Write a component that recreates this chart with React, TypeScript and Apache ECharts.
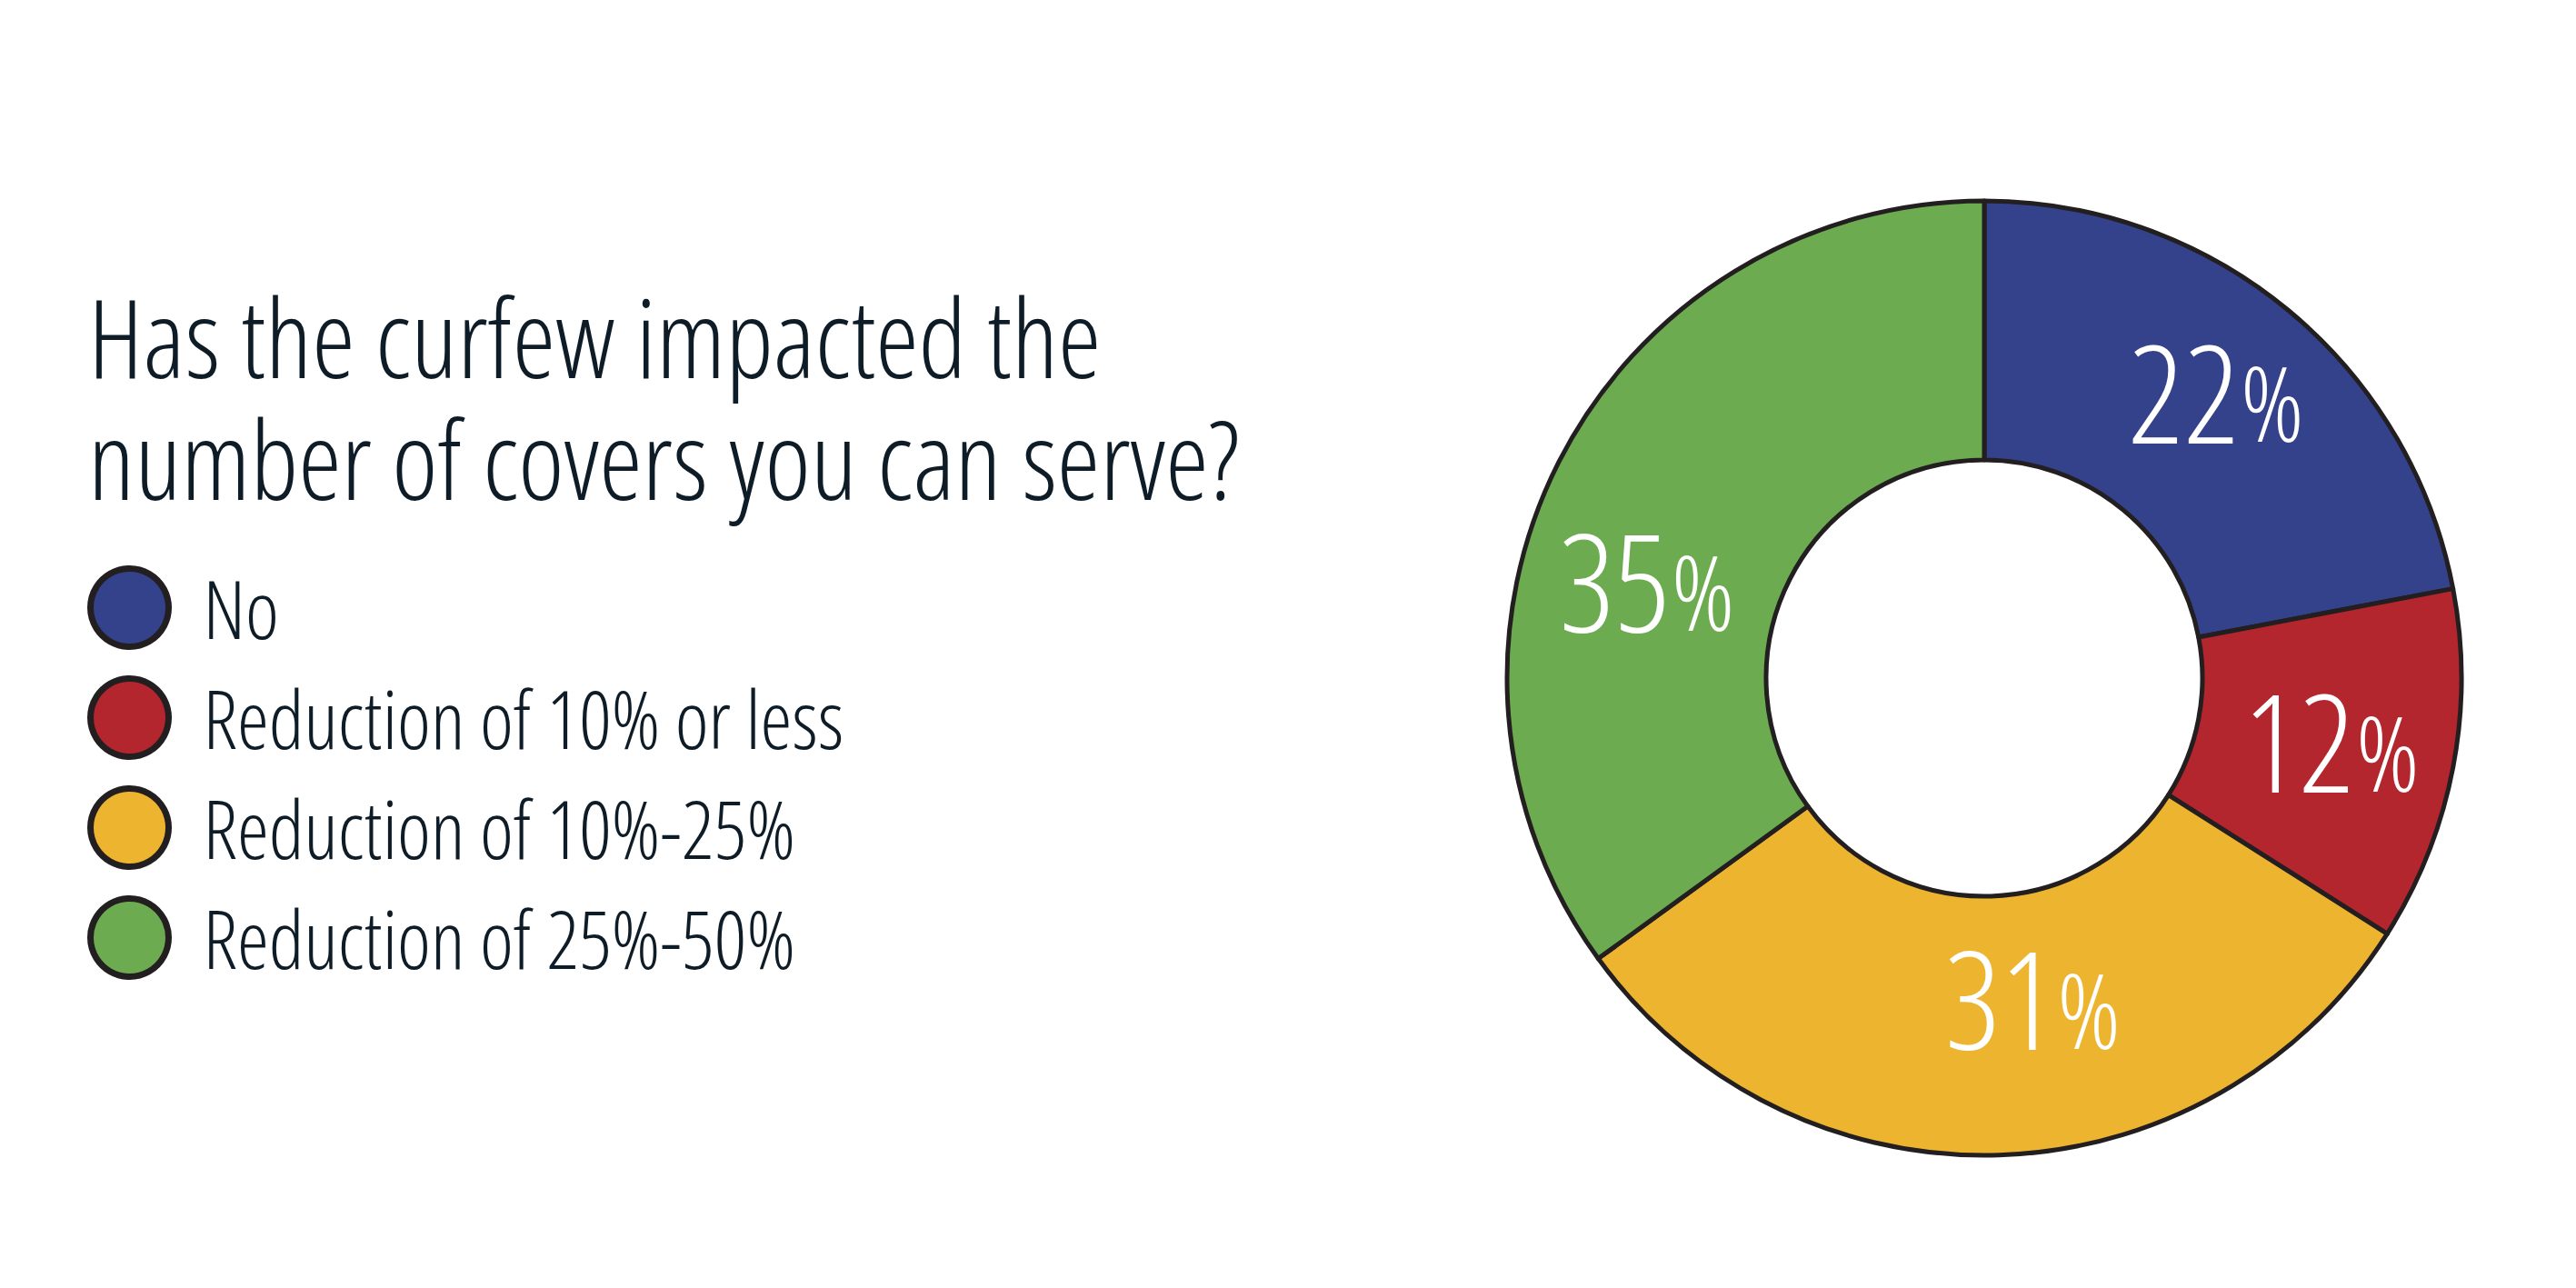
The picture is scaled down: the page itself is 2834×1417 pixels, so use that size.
import React, { useEffect, useRef } from "react";
import * as echarts from "echarts";

const titleLines = ["Has the curfew impacted the", "number of covers you can serve?"];
const categories = ["No", "Reduction of 10% or less", "Reduction of 10%-25%", "Reduction of 25%-50%"];
const values = [22, 12, 31, 35];
const colors = ["#33428a", "#b3262e", "#ecb42f", "#6dab51"];
const labelOffsets: [number, number][] = [[9, -19], [3, -4], [41, -34], [-28, 67]];

const FONT = "'Open Sans'";
const STRETCH = "condensed";
const WEIGHT = 300;
const TEXT = "#0e1c27";
const EDGE = "#231f20";

export default function App() {
  const ref = useRef<HTMLDivElement>(null);
  useEffect(() => {
    document.body.style.margin = "0";
    const chart = echarts.init(ref.current!, null, { renderer: "svg" });
    const txt = (size: number, color: string, extra: any = {}) => ({
      fontFamily: FONT,
      fontStyle: STRETCH,
      fontWeight: WEIGHT,
      fontSize: size,
      color,
      ...extra,
    });
    chart.setOption({
      animation: false,
      backgroundColor: "#ffffff",
      title: {
        text: titleLines.join("\n"),
        left: 92,
        top: 297,
        textStyle: txt(120, TEXT, { lineHeight: 134 }),
      },
      legend: {
        orient: "vertical",
        left: 91,
        top: 617,
        icon: "circle",
        itemWidth: 86,
        itemHeight: 86,
        itemGap: 28,
        itemStyle: { borderColor: EDGE, borderWidth: 7 },
        textStyle: txt(88, TEXT, { lineHeight: 80, padding: [0, 0, 0, 33] }),
        data: categories,
      },
      series: [
        {
          type: "pie",
          center: [2183, 746],
          radius: [240, 525],
          startAngle: 90,
          clockwise: true,
          silent: true,
          itemStyle: { borderColor: EDGE, borderWidth: 5 },
          label: {
            show: true,
            position: "inside",
            formatter: "{n|{c}}{p|%}",
            rich: {
              n: txt(150, "#ffffff", { verticalAlign: "bottom" }),
              p: txt(114, "#ffffff", { verticalAlign: "bottom", padding: [0, 0, 6, 2] }),
            },
          },
          labelLine: { show: false },
          data: categories.map((name, i) => ({
            name,
            value: values[i],
            itemStyle: { color: colors[i] },
            label: { offset: labelOffsets[i] },
          })),
        },
      ],
    });
    return () => chart.dispose();
  }, []);
  return (
    <>
      <style>{`#root svg text, #root svg tspan { font-stretch: condensed; }`}</style>
      <div ref={ref} style={{ width: 2834, height: 1417 }} />
    </>
  );
}
